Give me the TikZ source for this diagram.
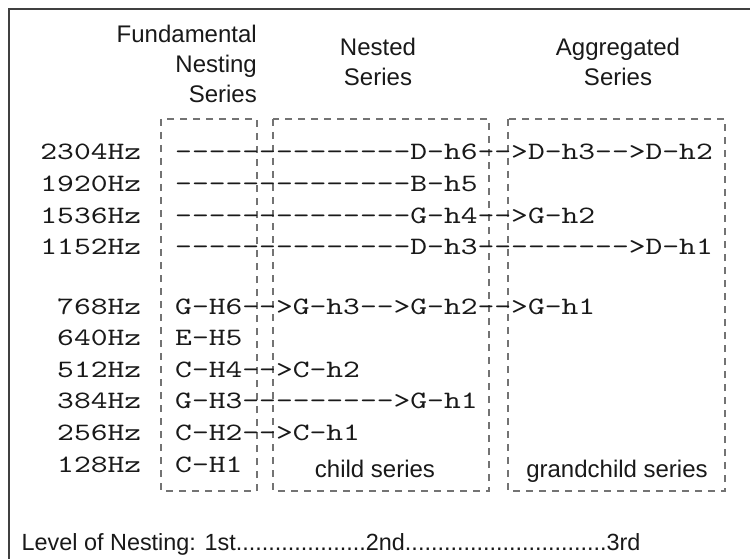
\documentclass[tikz,border=0pt]{standalone}
\usepackage{fontspec}
\usepackage{graphicx}
\setsansfont{Liberation Sans}
\setmonofont{lmmono10-regular.otf}
% typewriter text, widened so one character takes 16.8 units
\newcommand{\monotext}[1]{\scalebox{1.28}[1]{\ttfamily\fontsize{25}{25}\selectfont #1}}
\begin{document}
\begin{tikzpicture}[x=1pt,y=-1pt,
  frameline/.style={draw=black!75, line width=1.5pt},
  seriesbox/.style={draw=black!55, line width=1.1pt, dash pattern=on 7pt off 6pt},
  row/.style={inner sep=0pt, anchor=base west, text=black!90},
  freq/.style={inner sep=0pt, anchor=base east, text=black!90},
  head/.style={inner sep=0pt, text=black!90, font=\sffamily\fontsize{24}{24}\selectfont},
]
\useasboundingbox (0,0) rectangle (750,559);
\fill[white] (0,0) rectangle (750,559);

% outer frame (top and left edges)
\draw[frameline] (9,559) -- (9,9) -- (750,9);

% series boxes
\draw[seriesbox] (161,119) rectangle (257,491);
\draw[seriesbox] (273,119) rectangle (489,491);
\draw[seriesbox] (508,119) rectangle (725,491);

% column headings
\node[head, anchor=base east] (fund1) at (257,43) {Fundamental};
\node[head, anchor=base east] (fund2) at (257,73) {Nesting};
\node[head, anchor=base east] (fund3) at (257,103) {Series};
\node[head, anchor=base] (nest1) at (378,56) {Nested};
\node[head, anchor=base] (nest2) at (378,86) {Series};
\node[head, anchor=base] (aggr1) at (618,56) {Aggregated};
\node[head, anchor=base] (aggr2) at (618,86) {Series};

% frequencies
\foreach \f/\y [count=\i] in {2304/160,1920/191.6,1536/223.2,1152/254.8,
    768/314,640/345.6,512/377.2,384/408.8,256/440.4,128/472}
  \node[freq] (freq\i) at (141.4,\y) {\monotext{\f Hz}};

% harmonic chains
\node[row] (r1)  at (175,160)   {\monotext{--------------D-h6-->D-h3-->D-h2}};
\node[row] (r2)  at (175,191.6) {\monotext{--------------B-h5}};
\node[row] (r3)  at (175,223.2) {\monotext{--------------G-h4-->G-h2}};
\node[row] (r4)  at (175,254.8) {\monotext{--------------D-h3--------->D-h1}};
\node[row] (r5)  at (175,314)   {\monotext{G-H6-->G-h3-->G-h2-->G-h1}};
\node[row] (r6)  at (175,345.6) {\monotext{E-H5}};
\node[row] (r7)  at (175,377.2) {\monotext{C-H4-->C-h2}};
\node[row] (r8)  at (175,408.8) {\monotext{G-H3--------->G-h1}};
\node[row] (r9)  at (175,440.4) {\monotext{C-H2-->C-h1}};
\node[row] (r10) at (175,472)   {\monotext{C-H1}};

% box captions
\node[head, anchor=base] (child) at (375,477) {child series};
\node[head, anchor=base] (grand) at (617,477) {grandchild series};

% nesting levels
\node[head, anchor=base west, font=\sffamily\fontsize{23.4}{23.4}\selectfont] (levels) at (21.5,550)
  {Level of Nesting: 1st....................2nd...............................3rd};
\end{tikzpicture}
\end{document}
